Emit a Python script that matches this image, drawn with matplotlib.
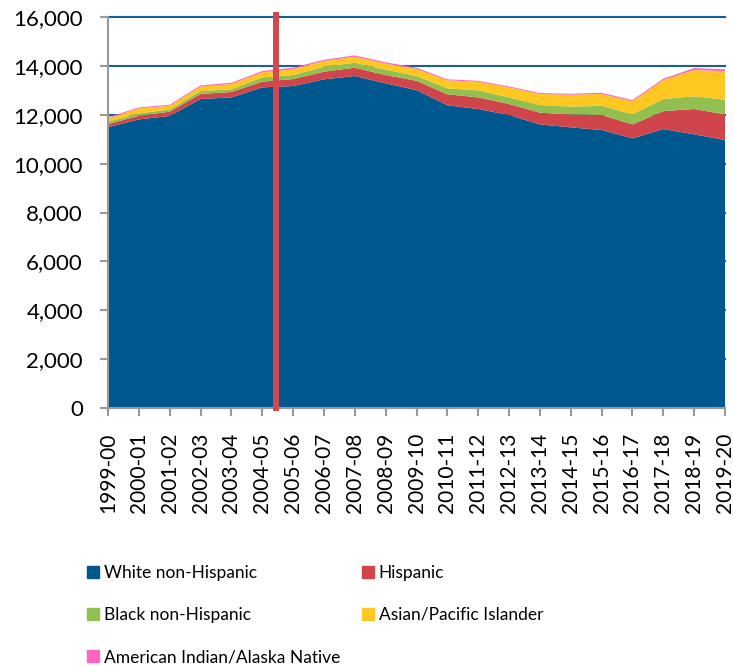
import numpy as np
import matplotlib
matplotlib.use("Agg")
import matplotlib.pyplot as plt
from matplotlib.patches import Patch

plt.rcParams["font.family"] = ["Lato", "DejaVu Sans"]

years = ["1999-00", "2000-01", "2001-02", "2002-03", "2003-04", "2004-05",
         "2005-06", "2006-07", "2007-08", "2008-09", "2009-10", "2010-11",
         "2011-12", "2012-13", "2013-14", "2014-15", "2015-16", "2016-17",
         "2017-18", "2018-19", "2019-20"]

white = [11490, 11810, 11950, 12645, 12710, 13120, 13175, 13450, 13585, 13285, 13010,
         12385, 12235, 11990, 11605, 11485, 11375, 11035, 11415, 11200, 10965]
hispanic = [130, 150, 175, 205, 220, 235, 285, 310, 340, 340, 380,
            450, 475, 450, 480, 530, 615, 570, 735, 1035, 1050]
black = [95, 95, 95, 120, 110, 175, 165, 205, 205, 220, 195,
         245, 285, 270, 315, 315, 380, 410, 495, 520, 600]
asian = [135, 205, 150, 180, 220, 205, 235, 235, 245, 245, 285,
         330, 355, 410, 450, 490, 480, 535, 775, 1075, 1165]
amind = [45, 40, 40, 50, 50, 55, 65, 50, 55, 55, 55,
         40, 40, 40, 40, 40, 50, 50, 55, 80, 80]

labels = ["White non-Hispanic", "Hispanic", "Black non-Hispanic",
          "Asian/Pacific Islander", "American Indian/Alaska Native"]
colors = ["#00588F", "#D0444B", "#92C050", "#FFC820", "#FF66C4"]

# position of the vertical marker, between 2004-05 and 2005-06
marker_pos = 5.45

fig = plt.figure(figsize=(7.33, 6.66), dpi=100)
ax = fig.add_axes([108 / 733, 1 - 408 / 666, 617 / 733, 391 / 666])

x = np.arange(len(years))
ax.stackplot(x, white, hispanic, black, asian, amind, colors=colors,
             linewidth=0, zorder=2)

ax.axvline(marker_pos, ymin=0, ymax=1.005, color="#D5474E", lw=4.3, zorder=3,
           clip_on=False)

ax.set_xlim(0, len(years) - 1)
ax.set_ylim(0, 16000)
ax.set_yticks(np.arange(0, 16001, 2000))
ax.set_yticklabels([f"{v:,}" for v in range(0, 16001, 2000)], fontsize=16)
ax.set_xticks(x)
ax.set_xticklabels(years, rotation=90, fontsize=15)
ax.grid(axis="y", color="#1A5F96", lw=1.5, zorder=0)
ax.set_axisbelow(True)
for gl in ax.yaxis.get_gridlines():
    gl.set_clip_on(False)

for s in ["top", "right"]:
    ax.spines[s].set_visible(False)
for s in ["left", "bottom"]:
    ax.spines[s].set_color("#999999")
    ax.spines[s].set_linewidth(1.5)
ax.tick_params(axis="both", color="#999999", width=1.5, length=6)
ax.tick_params(axis="y", pad=12)
ax.tick_params(axis="x", pad=12)

handles = [Patch(color=c) for c in colors]
order = [0, 2, 4, 1, 3]
fig.legend([handles[i] for i in order], [labels[i] for i in order],
           loc="upper left", bbox_to_anchor=(80 / 733, 1 - 558 / 666),
           ncol=2, frameon=False, fontsize=12.5, handlelength=0.7,
           handleheight=0.7, handletextpad=0.3, labelspacing=1.5,
           columnspacing=1.2, borderaxespad=0)

fig.savefig("out.png", dpi=100)
